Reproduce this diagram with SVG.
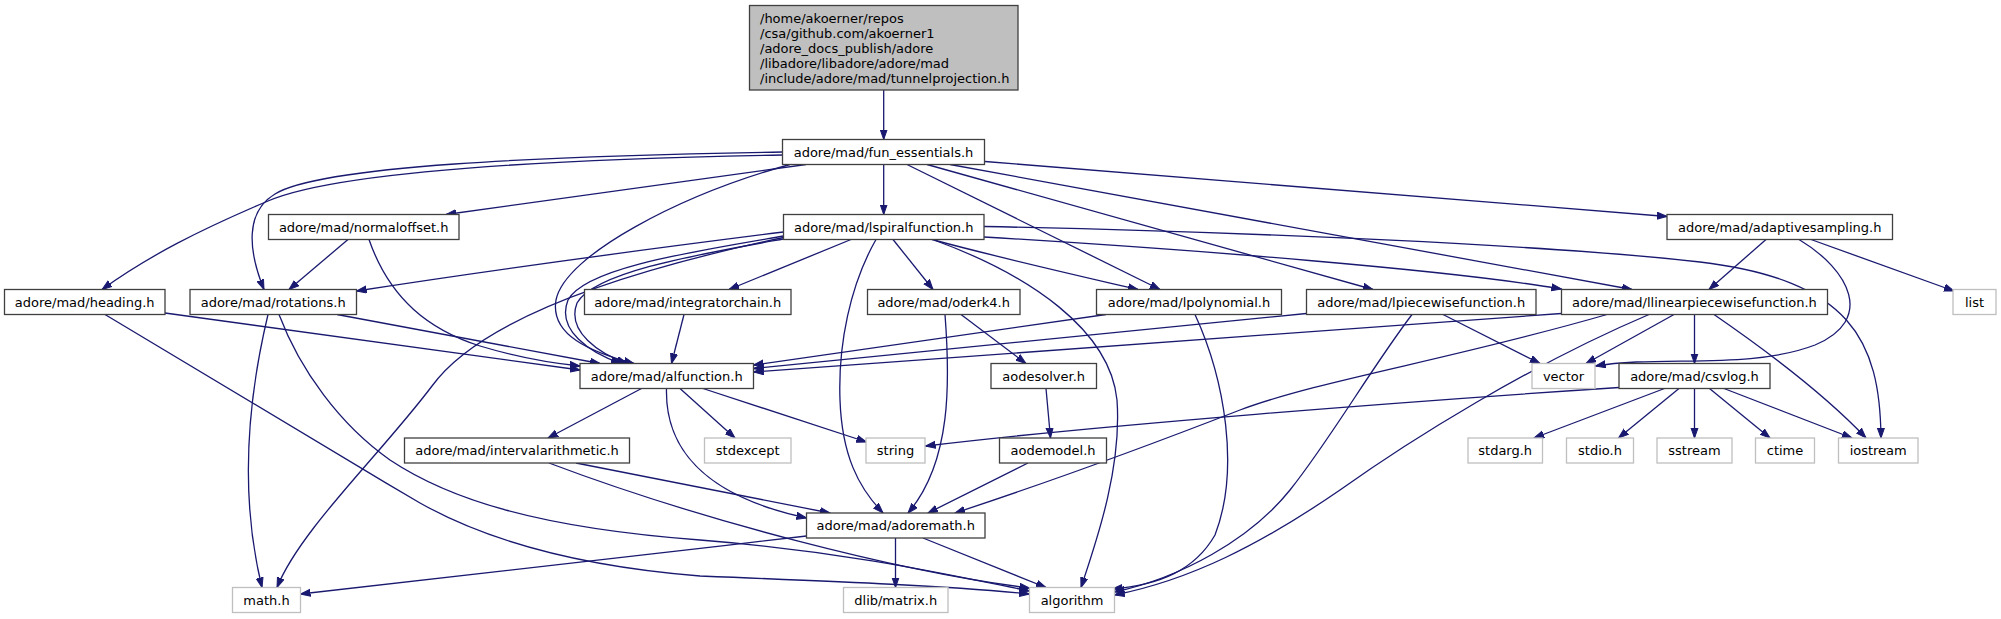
<svg xmlns="http://www.w3.org/2000/svg" width="2001" height="619" viewBox="0 0 2001 619">
<defs>
<marker id="ah" markerUnits="userSpaceOnUse" markerWidth="12" markerHeight="10" refX="10" refY="4" orient="auto">
<path d="M0,0.5 L10,4 L0,7.5 z" fill="#191970" stroke="#191970" stroke-width="1"/>
</marker>
</defs>
<style>
.n rect{fill:#ffffff;stroke:#404040;stroke-width:1.3}
.g rect{fill:#ffffff;stroke:#bfbfbf;stroke-width:1.3}
.r rect{fill:#bfbfbf;stroke:#404040;stroke-width:1.3}
text{font-family:"DejaVu Sans","Liberation Sans",sans-serif;font-size:13px;fill:#000}
.n text,.g text{text-anchor:middle}
#edges path{fill:none;stroke:#191970;stroke-width:1.3;marker-end:url(#ah)}
</style>
<rect width="2001" height="619" fill="#ffffff"/>
<g id="edges">
<path d="M883.7,90 L883.7,139.5"/>
<path d="M883.7,164.5 L883.7,214.5"/>
<path d="M806,164.5 L446,214.5"/>
<path d="M782.5,155 C560,159 340,170 268,201 C200,230 150,255 102,289.5"/>
<path d="M782.5,152 C540,156 320,166 275,194 C245,212 248,250 264,289.5"/>
<path d="M790,164.5 C680,195 565,255 556,300 C550,335 590,352 634,363.5"/>
<path d="M907,164.5 L1160,289.5"/>
<path d="M927,164.5 L1373,289.5"/>
<path d="M950,164.5 L1632,289.5"/>
<path d="M985,161.5 L1667,216.5"/>
<path d="M783.5,236 C690,252 585,268 568,300 C556,330 590,353 621,363.5"/>
<path d="M783.5,239 C695,255 595,272 577,303 C566,332 600,354 627,363.5"/>
<path d="M783.5,232 C640,250 480,272 356.5,291"/>
<path d="M783.5,237.5 C620,272 480,320 432,386 C380,455 300,530 277,587.5"/>
<path d="M851,239.5 L729,289.5"/>
<path d="M876,239.5 C850,285 838,345 840,400 C842,455 858,487 883,513"/>
<path d="M893,239.5 L933,289.5"/>
<path d="M932,239.5 C1000,258 1080,276 1138,289.5"/>
<path d="M934,240 C1030,275 1110,330 1117,400 C1122,470 1095,545 1081,587.5"/>
<path d="M984,237 C1200,250 1450,270 1561.5,289"/>
<path d="M984,226.5 C1250,232 1550,245 1700,262 C1850,280 1880,340 1881,438"/>
<path d="M348,239.5 L289,289.5"/>
<path d="M369,239.5 C390,300 430,330 480,346 C520,358 550,363 580,366"/>
<path d="M165,313 L580,370"/>
<path d="M105,314.5 C250,402 330,450 420,503 C500,548 600,568 700,576 C850,582 950,586 1029.5,594"/>
<path d="M337,314.5 L600,363.5"/>
<path d="M268,314.5 C250,390 238,490 262,587.5"/>
<path d="M279,314.5 C300,370 340,425 390,460 C450,500 540,528 700,540 C850,552 950,575 1029.5,591"/>
<path d="M684,314.5 L671.5,363.5"/>
<path d="M961,314.5 L1026,363.5"/>
<path d="M945,314.5 C950,380 952,462 908,513"/>
<path d="M1046,388.5 L1050.5,438"/>
<path d="M1028,463 L928,513"/>
<path d="M1106,314.5 L753.5,365"/>
<path d="M1195,314.5 C1225,380 1240,470 1215,535 C1195,570 1160,585 1112,589"/>
<path d="M1306.5,313.5 L753.5,368.5"/>
<path d="M1443,314.5 L1540,363.5"/>
<path d="M1412,314.5 C1370,370 1330,440 1290,490 C1250,540 1180,578 1114.5,592"/>
<path d="M1561.5,313.5 L753.5,372"/>
<path d="M1607,314.5 C1450,360 1320,380 1240,410 C1150,445 1040,485 955,513"/>
<path d="M1649,314.5 C1530,365 1410,440 1340,490 C1260,545 1190,580 1114.5,595"/>
<path d="M1674,314.5 L1586,363.5"/>
<path d="M1694.5,314.5 L1694.5,363.5"/>
<path d="M1714,314.5 C1780,360 1830,400 1866,438"/>
<path d="M1766,239.5 L1709,289.5"/>
<path d="M1799,239.5 C1850,270 1875,320 1815,345 C1750,370 1660,355 1595.5,366"/>
<path d="M1811,239.5 L1954,291"/>
<path d="M1619,387.5 C1400,402 1100,425 925.5,446"/>
<path d="M1664.5,388.5 L1534,438"/>
<path d="M1679,388.5 L1618.5,438"/>
<path d="M1694.5,388.5 L1694.5,438"/>
<path d="M1709.5,388.5 L1770,438"/>
<path d="M1724,388.5 L1852,438"/>
<path d="M641.5,388.5 L548,438"/>
<path d="M666.5,388.5 C665,445 700,495 806.5,518"/>
<path d="M680,388.5 L735,438"/>
<path d="M703,388.5 L866.5,442"/>
<path d="M576,463 L830,513"/>
<path d="M549,463 C700,520 900,572 1029.5,588"/>
<path d="M806.5,536 C620,558 420,580 300.5,594"/>
<path d="M895.5,538 L895.5,587.5"/>
<path d="M923,538 L1046,587.5"/>
</g>
<g id="root" class="r"><rect x="749.5" y="5.5" width="268.5" height="84.5"/>
<text x="760" y="22.5">/home/akoerner/repos</text>
<text x="760" y="37.5">/csa/github.com/akoerner1</text>
<text x="760" y="52.5">/adore_docs_publish/adore</text>
<text x="760" y="67.5">/libadore/libadore/adore/mad</text>
<text x="760" y="82.5">/include/adore/mad/tunnelprojection.h</text></g>
<g id="fun_essentials" class="n"><rect x="782.5" y="139.5" width="202" height="25"/><text x="883.5" y="156.5">adore/mad/fun_essentials.h</text></g>
<g id="normaloffset" class="n"><rect x="268.5" y="214.5" width="190.5" height="25"/><text x="363.7" y="231.5">adore/mad/normaloffset.h</text></g>
<g id="lspiralfunction" class="n"><rect x="783.5" y="214.5" width="200.5" height="25"/><text x="883.7" y="231.5">adore/mad/lspiralfunction.h</text></g>
<g id="adaptivesampling" class="n"><rect x="1667" y="214.5" width="225.5" height="25"/><text x="1779.7" y="231.5">adore/mad/adaptivesampling.h</text></g>
<g id="heading" class="n"><rect x="4.5" y="289.5" width="160.5" height="25"/><text x="84.7" y="306.5">adore/mad/heading.h</text></g>
<g id="rotations" class="n"><rect x="190" y="289.5" width="166.5" height="25"/><text x="273.2" y="306.5">adore/mad/rotations.h</text></g>
<g id="integratorchain" class="n"><rect x="584.5" y="289.5" width="206.5" height="25"/><text x="687.7" y="306.5">adore/mad/integratorchain.h</text></g>
<g id="oderk4" class="n"><rect x="867.5" y="289.5" width="152.5" height="25"/><text x="943.7" y="306.5">adore/mad/oderk4.h</text></g>
<g id="lpolynomial" class="n"><rect x="1096.5" y="289.5" width="185" height="25"/><text x="1189" y="306.5">adore/mad/lpolynomial.h</text></g>
<g id="lpiecewisefunction" class="n"><rect x="1306.5" y="289.5" width="229.5" height="25"/><text x="1421.2" y="306.5">adore/mad/lpiecewisefunction.h</text></g>
<g id="llinearpiecewisefunction" class="n"><rect x="1561.5" y="289.5" width="266" height="25"/><text x="1694.5" y="306.5">adore/mad/llinearpiecewisefunction.h</text></g>
<g id="list" class="g"><rect x="1953" y="289.5" width="43" height="25"/><text x="1974.5" y="306.5">list</text></g>
<g id="alfunction" class="n"><rect x="580" y="363.5" width="173.5" height="25"/><text x="666.7" y="380.5">adore/mad/alfunction.h</text></g>
<g id="aodesolver" class="n"><rect x="991" y="363.5" width="105.5" height="25"/><text x="1043.7" y="380.5">aodesolver.h</text></g>
<g id="vector" class="g"><rect x="1532" y="363.5" width="63" height="25"/><text x="1563.5" y="380.5">vector</text></g>
<g id="csvlog" class="n"><rect x="1619" y="363.5" width="151" height="25"/><text x="1694.5" y="380.5">adore/mad/csvlog.h</text></g>
<g id="intervalarithmetic" class="n"><rect x="404.5" y="438" width="225" height="25"/><text x="517" y="455">adore/mad/intervalarithmetic.h</text></g>
<g id="stdexcept" class="g"><rect x="704.5" y="438" width="86.5" height="25"/><text x="747.7" y="455">stdexcept</text></g>
<g id="string" class="g"><rect x="866" y="438" width="59" height="25"/><text x="895.5" y="455">string</text></g>
<g id="aodemodel" class="n"><rect x="999.5" y="438" width="107" height="25"/><text x="1053" y="455">aodemodel.h</text></g>
<g id="stdarg" class="g"><rect x="1468" y="438" width="74.5" height="25"/><text x="1505.2" y="455">stdarg.h</text></g>
<g id="stdio" class="g"><rect x="1566.5" y="438" width="67" height="25"/><text x="1600" y="455">stdio.h</text></g>
<g id="sstream" class="g"><rect x="1657" y="438" width="75" height="25"/><text x="1694.5" y="455">sstream</text></g>
<g id="ctime" class="g"><rect x="1755.5" y="438" width="59" height="25"/><text x="1785" y="455">ctime</text></g>
<g id="iostream" class="g"><rect x="1838.5" y="438" width="79.5" height="25"/><text x="1878.2" y="455">iostream</text></g>
<g id="adoremath" class="n"><rect x="806.5" y="513" width="178.5" height="25"/><text x="895.7" y="530">adore/mad/adoremath.h</text></g>
<g id="math" class="g"><rect x="232.5" y="587.5" width="68" height="25"/><text x="266.5" y="604.5">math.h</text></g>
<g id="dlib_matrix" class="g"><rect x="843.5" y="587.5" width="104.5" height="25"/><text x="895.7" y="604.5">dlib/matrix.h</text></g>
<g id="algorithm" class="g"><rect x="1029.5" y="587.5" width="85" height="25"/><text x="1072" y="604.5">algorithm</text></g>
</svg>
